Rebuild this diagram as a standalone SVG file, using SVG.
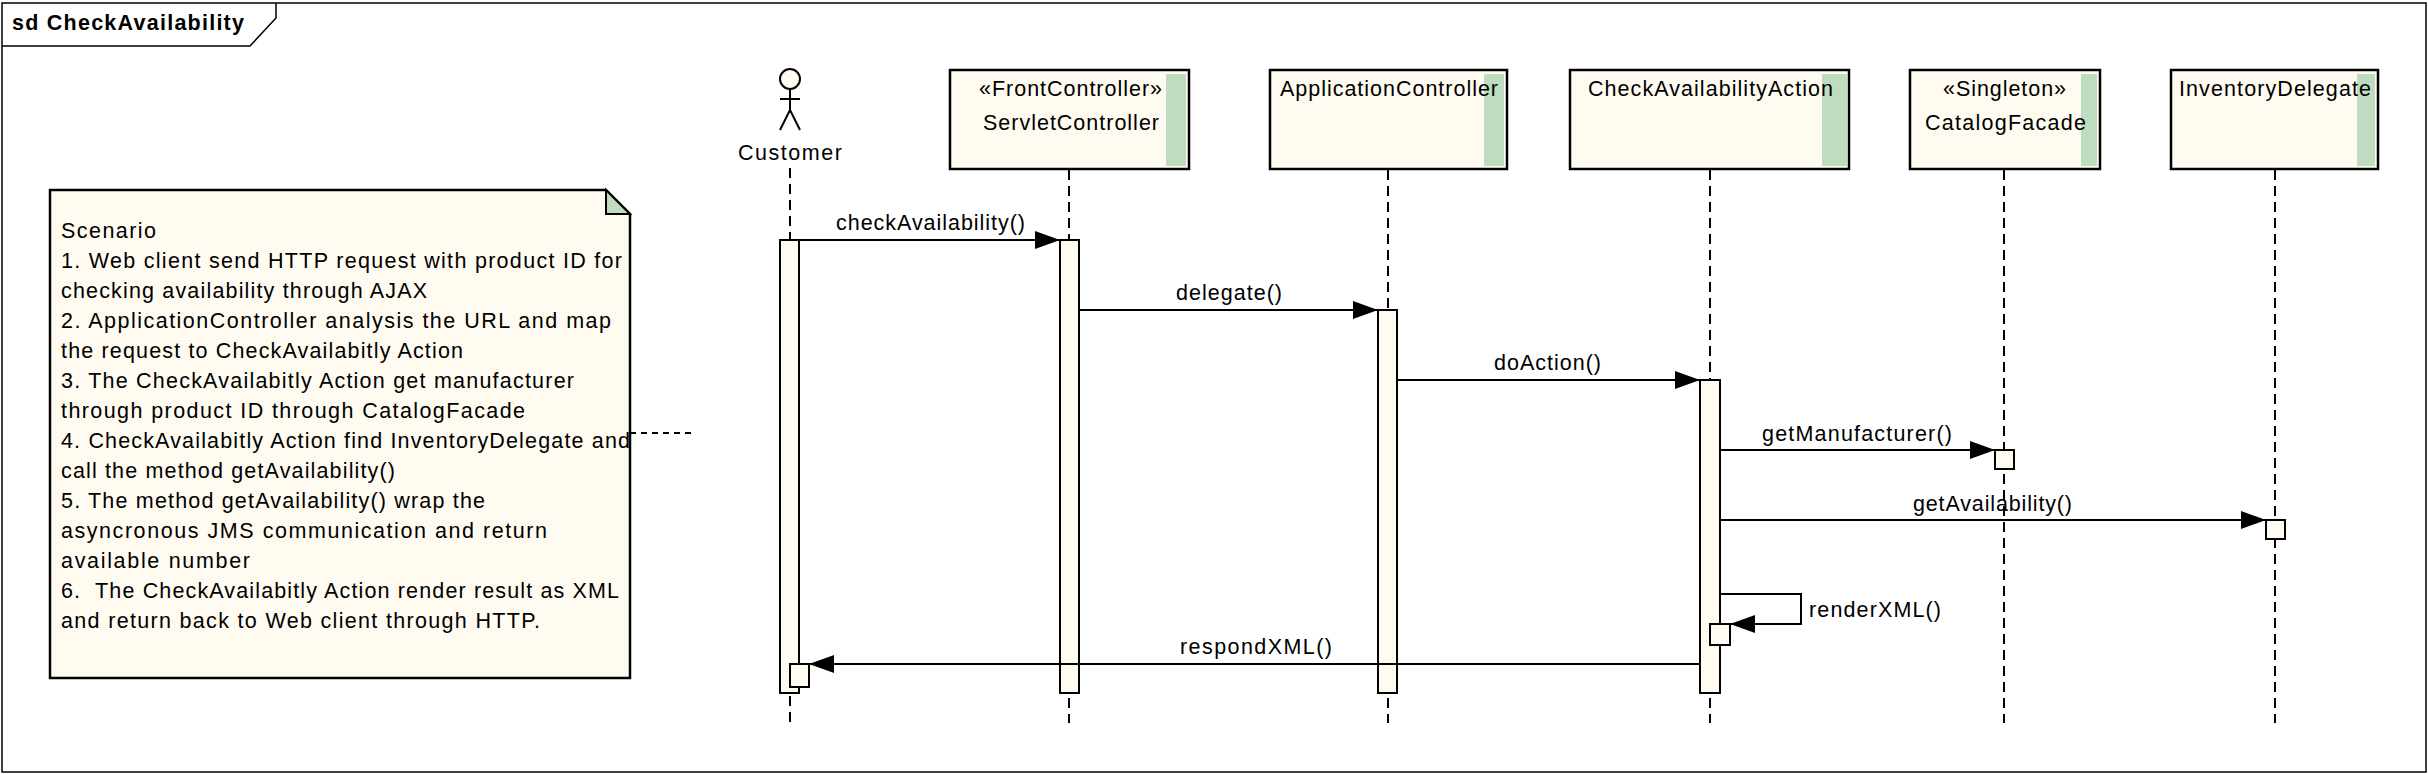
<svg xmlns="http://www.w3.org/2000/svg" width="2428" height="774" viewBox="0 0 2428 774">
<defs>
<marker id="ah" markerUnits="userSpaceOnUse" markerWidth="26" markerHeight="18" refX="25" refY="9" orient="auto"><path d="M0 0L25 9L0 18Z" fill="#000"/></marker>
</defs>
<style>
text{font-family:"Liberation Sans",Arial,sans-serif;font-size:21.5px;fill:#000;white-space:pre}
.b{fill:#FFFBF0;stroke:#000;stroke-width:2.5}
.a{fill:#FFFBF0;stroke:#000;stroke-width:2}
.g{fill:#C0DCC0}
.l{fill:none;stroke:#000;stroke-width:2;stroke-dasharray:10 6}
.m{fill:none;stroke:#000;stroke-width:2;marker-end:url(#ah)}
.s{fill:none;stroke:#000;stroke-width:2}
</style>
<rect width="2428" height="774" fill="#fff"/>
<g id="frame">
<rect x="2" y="3" width="2424" height="769" fill="#fff" stroke="#000" stroke-width="1.5"/>
<path d="M2 46H250L276 18V3" fill="none" stroke="#000" stroke-width="1.5"/>
<text x="12" y="30" font-weight="700" style="font-weight:700" textLength="232">sd CheckAvailability</text>
</g>
<g id="note">
<path class="b" d="M50 190H606L630 214V678H50Z"/>
<path class="g" d="M606 190L630 214H606Z" stroke="#000" stroke-width="2"/>
<text x="61" y="238" textLength="95">Scenario</text>
<text x="61" y="268" textLength="561">1. Web client send HTTP request with product ID for</text>
<text x="61" y="298" textLength="366">checking availability through AJAX</text>
<text x="61" y="328" textLength="550">2. ApplicationController analysis the URL and map</text>
<text x="61" y="358" textLength="402">the request to CheckAvailabitly Action</text>
<text x="61" y="388" textLength="513">3. The CheckAvailabitly Action get manufacturer</text>
<text x="61" y="418" textLength="464">through product ID through CatalogFacade</text>
<text x="61" y="448" textLength="569">4. CheckAvailabitly Action find InventoryDelegate and</text>
<text x="61" y="478" textLength="334">call the method getAvailability()</text>
<text x="61" y="508" textLength="424">5. The method getAvailability() wrap the</text>
<text x="61" y="538" textLength="486">asyncronous JMS communication and return</text>
<text x="61" y="568" textLength="189">available number</text>
<text x="61" y="598" textLength="558">6.  The CheckAvailabitly Action render result as XML</text>
<text x="61" y="628" textLength="479">and return back to Web client through HTTP.</text>
</g>
<g id="connectors">
<path class="l" d="M790 168V723"/>
<path class="l" d="M1069 170V723"/>
<path class="l" d="M1388 170V723"/>
<path class="l" d="M1710 170V723"/>
<path class="l" d="M2004 170V723"/>
<path class="l" d="M2275 170V723"/>
<path d="M630 433H695" fill="none" stroke="#000" stroke-width="2" stroke-dasharray="6 5"/>
</g>
<g id="customer">
<circle class="a" cx="790" cy="79" r="10"/>
<path class="s" d="M790 89V110M780 99H800M780 130L790 110L800 130"/>
<text x="738" y="160" textLength="104">Customer</text>
<rect class="a" x="780" y="240" width="19" height="453"/>
<rect class="a" x="790" y="664" width="19" height="23"/>
</g>
<g id="servletController">
<rect class="b" x="950" y="70" width="239" height="99"/>
<rect class="g" x="1166" y="74" width="20" height="92"/>
<text x="979" y="96" textLength="183">«FrontController»</text>
<text x="983" y="130" textLength="176">ServletController</text>
<rect class="a" x="1060" y="240" width="19" height="453"/>
</g>
<g id="applicationController">
<rect class="b" x="1270" y="70" width="237" height="99"/>
<rect class="g" x="1484" y="74" width="20" height="92"/>
<text x="1280" y="96" textLength="218">ApplicationController</text>
<rect class="a" x="1378" y="310" width="19" height="383"/>
</g>
<g id="checkAvailabilityAction">
<rect class="b" x="1570" y="70" width="279" height="99"/>
<rect class="g" x="1822" y="74" width="25" height="92"/>
<text x="1588" y="96" textLength="245">CheckAvailabilityAction</text>
<rect class="a" x="1700" y="380" width="20" height="313"/>
<rect class="a" x="1710" y="624" width="20" height="21"/>
</g>
<g id="catalogFacade">
<rect class="b" x="1910" y="70" width="190" height="99"/>
<rect class="g" x="2081" y="74" width="16" height="92"/>
<text x="1943" y="96" textLength="123">«Singleton»</text>
<text x="1925" y="130" textLength="161">CatalogFacade</text>
<rect class="a" x="1995" y="450" width="19" height="19"/>
</g>
<g id="inventoryDelegate">
<rect class="b" x="2171" y="70" width="207" height="99"/>
<rect class="g" x="2357" y="74" width="18" height="92"/>
<text x="2179" y="96" textLength="192">InventoryDelegate</text>
<rect class="a" x="2266" y="520" width="19" height="19"/>
</g>
<g id="messages">
<path class="m" d="M799 240H1060"/>
<path class="m" d="M1079 310H1378"/>
<path class="m" d="M1397 380H1700"/>
<path class="m" d="M1720 450H1995"/>
<path class="m" d="M1720 520H2266"/>
<path class="m" d="M1720 594H1801V624H1730"/>
<path class="m" d="M1700 664H809"/>
<text x="836" y="230" textLength="189">checkAvailability()</text>
<text x="1176" y="300" textLength="106">delegate()</text>
<text x="1494" y="370" textLength="107">doAction()</text>
<text x="1762" y="441" textLength="190">getManufacturer()</text>
<text x="1913" y="511" textLength="159">getAvailability()</text>
<text x="1809" y="617" textLength="132">renderXML()</text>
<text x="1180" y="654" textLength="152">respondXML()</text>
</g>
</svg>
